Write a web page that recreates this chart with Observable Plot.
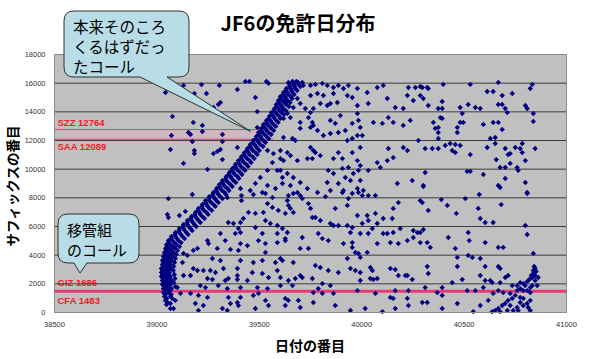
<!DOCTYPE html>
<html><head><meta charset="utf-8">
<script src="https://cdn.jsdelivr.net/npm/d3@7"></script>
<script src="https://cdn.jsdelivr.net/npm/@observablehq/plot@0.6"></script>
<style>html,body{margin:0;padding:0;background:#fff;overflow:hidden} #chart svg{display:block}</style>
</head><body><div id="chart"></div>
<script>
const chartTitle = "JF6の免許日分布";
const xTitle = "日付の番目";
const yTitle = "サフィックスの番目";
const xTicks = [38500, 39000, 39500, 40000, 40500, 41000];
const yTicks = [0, 2000, 4000, 6000, 8000, 10000, 12000, 14000, 16000, 18000];
const refLabels = ["SZZ 12764", "SAA 12089", "GIZ 1686", "CFA 1483"];
const refValues = [12764, 12089, 1686, 1483];
const shortLineEnd = 39570;
const callout1Lines = ["本来そのころ", "くるはずだっ", "たコール"];
const callout1Target = [39460, 12600];
const callout2Lines = ["移管組", "のコール"];

const curvePoints = [
[39662,16120],[39681,16120],
[39647,15910],[39666,15910],[39691,15910],
[39632,15630],[39652,15630],[39676,15630],
[39618,15350],[39637,15350],[39662,15350],
[39603,15070],[39623,15070],[39652,15070],
[39593,14790],[39613,14790],[39637,14790],
[39583,14510],[39603,14510],[39632,14510],
[39574,14230],[39593,14230],[39618,14230],
[39559,13950],[39579,13950],[39608,13950],
[39549,13680],[39569,13680],[39598,13680],
[39535,13400],[39554,13400],[39583,13400],
[39520,13120],[39540,13120],[39569,13120],
[39510,12840],[39530,12840],[39559,12840],
[39496,12560],[39515,12560],[39545,12560],
[39486,12280],[39505,12280],[39535,12280],
[39471,12000],[39491,12000],[39520,12000],
[39456,11720],[39476,11720],[39505,11720],
[39442,11440],[39461,11440],[39491,11440],
[39427,11160],[39447,11160],[39481,11160],
[39413,10880],[39432,10880],[39466,10880],
[39398,10600],[39418,10600],[39452,10600],
[39383,10330],[39403,10330],[39437,10330],
[39369,10050],[39388,10050],[39422,10050],
[39354,9770],[39374,9770],[39408,9770],
[39339,9490],[39359,9490],[39393,9490],
[39320,9210],[39339,9210],[39374,9210],
[39305,8930],[39325,8930],[39359,8930],
[39291,8650],[39310,8650],[39344,8650],
[39276,8370],[39295,8370],[39330,8370],
[39256,8090],[39276,8090],[39310,8090],
[39237,7810],[39256,7810],[39291,7810],
[39222,7540],[39242,7540],[39276,7540],
[39203,7260],[39222,7260],[39256,7260],
[39188,6980],[39208,6980],[39242,6980],
[39169,6700],[39188,6700],[39222,6700],
[39149,6420],[39169,6420],[39203,6420],
[39130,6140],[39149,6140],[39183,6140],
[39110,5860],[39130,5860],[39164,5860],
[39090,5580],[39110,5580],[39144,5580],
[39071,5300],[39090,5300],[39125,5300],
[39056,5020],[39076,5020],[39105,5020],
[39047,4740],[39066,4740],[39095,4740],
[39042,4470],[39061,4470],[39090,4470],
[39037,4190],[39056,4190],[39081,4190],
[39032,3910],[39051,3910],[39076,3910],
[39027,3630],[39047,3630],[39071,3630],
[39027,3350],[39047,3350],[39066,3350],
[39022,3070],[39042,3070],[39066,3070],
[39022,2790],[39042,2790],[39061,2790],
[39022,2510],[39042,2510],[39066,2510],
[39027,2230],[39047,2230],[39071,2230],
[39027,1950],[39047,1950],[39066,1950],
[39032,1670],[39051,1670],[39071,1670],
[39032,1390],[39056,1390],
[39037,1120],[39066,1120],
[39042,840],[39047,560],[39066,280]
];

const curveExtra = [
[39665,16050],[39690,16050],
[39648,15770],[39672,15770],[39700,15770],
[39630,15490],[39657,15490],[39685,15490],
[39618,15210],[39640,15210],[39670,15210],
[39605,14930],[39630,14930],[39660,14930],
[39596,14650],[39622,14650],[39650,14650],
[39585,14370],[39610,14370],[39645,14370],
[39572,14090],[39598,14090],[39630,14090],
[39560,13810],[39588,13810],[39620,13810],
[39548,13540],[39575,13540],[39603,13540],
[39535,13260],[39560,13260],[39592,13260],
[39522,12980],[39550,12980],[39580,12980],
[39510,12700],[39535,12700],[39570,12700],
[39498,12420],[39525,12420],[39558,12420],
[39485,12140],[39510,12140],[39545,12140],
[39470,11860],[39497,11860],[39530,11860],
[39455,11580],[39483,11580],[39518,11580],
[39440,11300],[39468,11300],[39500,11300],
[39426,11020],[39452,11020],[39490,11020],
[39412,10740],[39440,10740],[39475,10740],
[39398,10460],[39425,10460],[39460,10460],
[39383,10190],[39410,10190],[39445,10190],
[39368,9910],[39395,9910],[39430,9910],
[39352,9630],[39380,9630],[39415,9630],
[39337,9350],[39365,9350],[39400,9350],
[39320,9070],[39348,9070],[39385,9070],
[39305,8790],[39332,8790],[39368,8790],
[39290,8510],[39318,8510],[39352,8510],
[39273,8230],[39300,8230],[39338,8230],
[39255,7950],[39282,7950],[39320,7950],
[39238,7670],[39265,7670],[39300,7670],
[39220,7400],[39248,7400],[39285,7400],
[39202,7120],[39230,7120],[39268,7120],
[39185,6840],[39212,6840],[39250,6840],
[39166,6560],[39195,6560],[39232,6560],
[39148,6280],[39176,6280],[39212,6280],
[39128,6000],[39156,6000],[39192,6000],
[39108,5720],[39136,5720],[39172,5720],
[39089,5440],[39117,5440],[39152,5440],
[39070,5160],[39098,5160],[39135,5160],
[39058,4880],[39085,4880],[39118,4880],
[39050,4600],[39078,4600],[39110,4600],
[39046,4330],[39072,4330],[39100,4330],
[39040,4050],[39065,4050],[39095,4050],
[39036,3770],[39060,3770],[39090,3770],
[39033,3490],[39058,3490],[39086,3490],
[39030,3210],[39055,3210],[39082,3210],
[39028,2930],[39052,2930],[39080,2930],
[39028,2650],[39054,2650],[39085,2650],
[39030,2370],[39056,2370],[39088,2370],
[39033,2090],[39058,2090],[39082,2090],
[39036,1810],[39060,1810],[39090,1810],
[39038,1530],[39065,1530],
[39042,1250],[39070,1250],
[39048,980],[39075,980],
[39052,700]
];

const scatterPoints = [
[39130,15840],[39218,15900],[39305,15840],[39042,15350],[39183,15280],[39242,15280],[39393,15560],[39432,16120],[39452,16120],[39535,16120],[39545,15980],[39481,15000],[39310,14650],[39300,14510],[39276,14300],[39076,13680],[39178,13260],[39490,14020],[39222,13050],[39222,12630],[39154,12560],[39164,12420],[39071,12350],[39173,11930],[39320,12420],[39320,11930],[39490,12910],[39066,11370],[39183,11300],[39183,11090],[39310,11370],[39295,11230],[39276,11090],[39393,11510],[39320,10670],[39130,10400],[39247,9980],
[39540,11300],[39569,11090],[39603,10740],[39564,10460],[39588,9910],[39613,9420],[39540,9910],[39505,9420],[39481,9000],[39540,8860],[39579,8650],[39456,8510],[39515,8370],[39408,8650],
[39056,7950],[39173,8230],[39051,6840],[39056,6630],[39110,6770],[39139,7050],[39344,8020],[39413,8160],[39413,7810],[39471,8230],[39530,8300],[39564,8020],[39540,7600],[39564,7330],[39447,6980],[39481,6910],[39520,6980],[39593,7120],[39422,6560],[39408,6280],[39349,6280],[39374,6210],[39530,6420],[39554,6210],[39588,6070],[39481,5930],[39398,5860],[39383,5510],[39408,5580],[39515,5510],[39588,5510],[39310,5510],[39334,5020],[39247,5020],[39252,4810],[39408,4810],[39442,4670],[39496,5020],[39530,4810],[39588,4880],[39295,4470],[39359,4400],[39398,4330],[39530,4190],[39178,4330],[39198,4470],[39130,4120],[39149,3980],[39271,3770],[39310,3630],[39408,3630],[39471,3490],[39515,3630],[39579,3490],[39613,3630],[39125,3490],[39178,3070],[39198,2930],[39227,2930],[39261,2930],[39286,2790],[39325,3070],[39393,3070],[39393,2580],[39393,2300],[39466,2790],[39515,2720],[39545,2440],[39588,2930],[39130,2580],[39164,2580],[39247,2370],[39271,2300],[39334,2230],[39349,2370],[39442,2230],[39212,1880],[39237,1740],[39100,1740],[39300,1880],[39344,1670],[39408,1740],[39491,1740],[39540,1670],[39603,1880],[39115,1330],[39164,1330],[39203,1190],[39247,1050],[39349,1050],[39408,1050],[39471,1190],[39496,1330],[39530,840],[39042,840],[39066,630],[39081,280],[39188,630],[39227,490],[39320,280],[39344,140],[39359,630],[39398,490],[39393,700],[39481,280],[39203,140],[39545,490],[39090,840],
[39642,16050],[39676,15980],[39710,16050],[39715,15840],[39750,15840],[39774,15910],[39808,15980],[39832,15840],[39862,15700],[39886,15840],[39911,15630],[39935,15840],[39979,15630],[40027,15350],[40076,15700],[40105,15840],[40125,14930],[40228,15700],[40262,15700],[40286,15770],[40223,15140],[40252,14790],[40164,14300],[40203,14230],[40032,14580],[39979,14440],[39930,15140],[39954,15000],[39862,15280],[39813,15140],[39784,15280],[39750,15140],[39847,14580],[39881,14650],[39798,14580],[39832,14440],[39764,14230],[39686,14930],[39700,14580],[39666,14300],[39725,14230],[39750,13950],[39627,14580],[39613,14090],[39637,13880],[39618,13540],[39652,13600],[39700,13260],[39740,13600],[39759,13260],[39764,13050],[39847,13400],[39871,13190],[39896,13740],[39979,13880],[39984,13400],[39954,13190],[39993,12910],[40057,13260],[40101,13190],[40130,13600],[40154,13260],[40203,13050],[40237,13400],[39700,12840],[39750,12910],[39784,12700],[39813,12350],[39847,12490],[39886,12560],[39920,12700],[39618,12210],[39662,12140],[39676,12000],[39930,12000],[39954,12140],[39979,12350],[40003,12350],[40130,11440],[40203,11510],[40223,11300],[40277,12000],[39603,11300],[39637,11160],[39652,10950],[39618,10600],[39750,11510],[39764,11300],[39774,11160],[39798,10950],[39886,11160],[39954,11160],[39993,11510],[39686,10600],[39735,10740],[39759,10740],[39862,10740],[39906,10740],[40076,10460],[40125,10600],[40154,10810],[39979,10600],[39993,10250],[39603,9910],[39637,9700],[39666,9420],[39700,9070],[39613,9000],[39652,8860],[39837,9910],[39906,10050],[39935,10120],[39862,9700],[39920,9420],[39959,9700],[39984,9910],[39832,9070],[39886,9000],[39945,9210],[39993,9210],[40032,9910],[40091,10120],[40247,9210],[40301,8860],[40174,9000],[39735,8650],[39784,8370],[39847,8510],[39911,8510],[39979,8650],[40008,8510],
[39642,8160],[39666,8300],[39686,8370],[39700,8160],[39710,7950],[39637,7810],[39642,7470],[39652,7260],[39627,6910],[39666,6980],[39823,8090],[39906,8370],[39935,7950],[39954,8300],[39984,8370],[40003,8160],[40032,8160],[40067,8160],[39740,7600],[39750,7260],[39871,7260],[39930,7470],[39759,6630],[39774,6630],[39798,6420],[39979,6770],[40027,6770],[40067,6910],[40105,6560],[40149,6560],[40179,7670],[40154,7260],[40003,6210],[40032,6420],[40076,6210],[39847,6210],[39862,6070],[39886,6070],[39930,6070],[39954,5930],[39945,5580],[39613,5860],[39637,5580],[39710,5230],[39627,5160],[39627,5020],[39788,5510],[39808,5160],[39837,5020],[39911,4810],[39954,4880],[39993,5510],[40032,5510],[40052,5860],[40105,5510],[40125,5510],[40154,5580],[40188,5860],[40252,5720],[40272,5580],[40286,5580],[40223,5020],[40252,5230],[40076,4810],[40140,4880],[40179,4810],[39700,4470],[39740,4470],[39954,4540],[39969,4190],[39984,4120],[39993,3840],[40027,4190],[39603,3770],[39666,3490],[39774,3280],[39798,3140],[39930,3770],[39945,3070],[39969,2930],[39993,2790],[40042,3140],[40052,2930],[40140,3070],[40164,3000],[40179,2580],[40213,2580],[40223,2580],[40247,2300],[39837,2930],[39886,2790],[39603,2440],[39642,2230],[39676,2370],[39700,2580],[39710,2440],[40042,2370],[40057,2300],[40076,2370],[39993,2230],[39759,2370],[39808,2020],[39847,1880],[39662,1880],[39788,1670],[39979,1530],[40067,1330],[40164,1530],[40228,1530],[39764,1390],[39808,1330],[39862,1330],[39627,980],[39642,840],[39691,840],[39764,700],[40140,1050],[40154,980],[40223,980],[40296,700],[39627,490],[39700,350],[39871,490],[40017,280],[39945,140],[40101,60],[40164,280],[40228,490],[40286,7810],
[40296,15700],[40320,15700],[40325,15630],[40286,15140],[40301,14930],[40325,14440],[40398,15910],[40530,15910],[40667,16050],[40613,15420],[40642,15420],[40686,15140],[40735,15280],[40833,15910],[40823,15630],[40393,14720],[40374,14230],[40393,14230],[40481,14300],[40520,14510],[40555,14300],[40579,14230],[40667,14510],[40686,14510],[40701,14230],[40711,13950],[40799,14440],[40808,14230],[40838,13880],[40838,13330],[40491,13880],[40481,13260],[40496,13260],[40384,13600],[40393,13540],[40350,13260],[40359,12840],[40374,12910],[40374,12560],[40467,12910],[40467,12560],[40594,13120],[40642,13260],[40667,13260],[40686,12770],[40374,12140],[40310,11440],[40345,11440],[40374,11440],[40408,11650],[40432,11790],[40457,11720],[40481,11650],[40442,11300],[40457,11160],[40530,11020],[40628,12140],[40652,12210],[40652,11790],[40613,11510],[40701,11440],[40725,11090],[40715,11020],[40750,11510],[40774,11440],[40784,11790],[40784,11160],[40847,11440],[40799,10600],[40657,10670],[40676,10120],[40701,10120],[40725,10400],[40759,10120],[40764,9910],[40515,9840],[40530,9840],[40594,9630],[40310,9770],[40701,9350],[40667,8860],[40676,8720],[40799,9070],[40808,8370],[40301,8790],[40574,8230],
[40325,7120],[40389,7880],[40418,7470],[40462,6910],[40506,7950],[40569,7260],[40579,6560],[40603,6280],[40642,6280],[40681,7530],[40808,8300],[40296,7670],
[40301,5790],[40286,4880],[40320,4880],[40335,4540],[40423,5230],[40520,5580],[40525,5020],[40603,4880],[40667,4540],[40691,4540],[40799,6070],[40808,5440],[40838,4120],
[40457,4470],[40467,3840],[40467,3210],[40520,3980],[40540,3840],[40579,3770],[40603,3210],[40667,3210],[40676,3070],[40320,3210],[40325,2720],[40442,2090],[40491,2300],
[40310,1740],[40369,1390],[40393,1190],[40393,1740],[40515,1530],[40555,1530],[40594,1740],[40642,1330],[40667,1530],[40691,1390],[40725,1330],[40320,700],[40393,280],[40467,630],[40545,60],[40579,490],[40618,840]
];

const lateCluster = [
[40579,2580],[40603,2230],[40628,2230],[40637,2090],[40676,2090],[40701,2440],[40715,2580],[40735,1880],[40759,1880],[40774,2090],[40789,2020],[40808,2160],[40823,1740],[40833,1880],[40833,2440],[40838,2930],[40847,3070],[40838,2720],[40847,2230],[40857,1880],[40759,1530],[40774,1670],[40789,1530],[40808,1530],[40823,1390],[40750,1190],[40735,980],[40715,840],[40701,630],[40686,490],[40667,280],[40652,140],[40637,60],[40725,490],[40759,350],[40774,700],[40789,490],[40808,630],[40813,350],[40823,140],[40711,140],[40676,60],[40740,140],[40764,140],[40823,840],[40774,1050],[40789,980],
[40842,3210],[40852,2860],[40828,2580],[40818,2300],[40847,2580],[40798,1880],[40862,2440]
];

const allPoints = curvePoints.concat(curveExtra, scatterPoints, lateCluster);
const refTable = refLabels.map((label, i) => ({label, value: refValues[i]}));
const labelDy = [-7, 8, -5, 10];
const numFmt = d => String(d);
const latin = "'Liberation Sans', Arial, sans-serif";
const cjk = "'Noto Sans CJK JP', 'Noto Sans', sans-serif";
const pink = "#e8387a";

const labelMarks = refTable.map((d, i) => Plot.text([d], {
  x: 38500, y: "value", text: "label", dx: 3, dy: labelDy[i],
  textAnchor: "start", lineAnchor: "middle",
  fill: "#ee1c24", fontWeight: "bold", fontSize: 9.5, fontFamily: latin
}));

const plot = Plot.plot({
  width: 600,
  height: 359,
  marginLeft: 54,
  marginRight: 34,
  marginTop: 54,
  marginBottom: 47,
  style: {fontFamily: latin, background: "#ffffff", overflow: "visible"},
  x: {domain: [38500, 41000]},
  y: {domain: [0, 18000]},
  marks: [
    Plot.frame({fill: "#c0c0c0", stroke: null}),
    ...labelMarks,
    Plot.ruleY(yTicks.slice(1, -1), {stroke: "#3c3c3c", strokeWidth: 1}),
    Plot.ruleY(refTable.slice(0, 2), {y: "value", x1: 38500, x2: shortLineEnd, stroke: pink, strokeWidth: 1}),
    Plot.ruleY(refTable.slice(3), {y: "value", stroke: pink, strokeWidth: 3}),
    Plot.dot(allPoints, {x: d => d[0], y: d => d[1], symbol: "diamond2", r: 2.4, fill: "#000080", stroke: null}),
    Plot.frame({stroke: "#8c8c8c"}),
    Plot.axisX(xTicks, {tickSize: 0, tickPadding: 9, tickFormat: numFmt, fontSize: 7.5, fill: "#333", label: null}),
    Plot.axisY(yTicks, {tickSize: 0, tickPadding: 9, tickFormat: numFmt, fontSize: 7.5, fill: "#333", label: null})
  ]
});

const svg = d3.select(plot);
const sx = plot.scale("x"), sy = plot.scale("y");

svg.append("text").attr("x", 298).attr("y", 22)
  .attr("text-anchor", "middle").attr("dominant-baseline", "central")
  .style("font-family", cjk).style("font-weight", "bold").style("font-size", "20px")
  .attr("fill", "#000").text(chartTitle);

svg.append("text").attr("x", 310).attr("y", 345)
  .attr("text-anchor", "middle").attr("dominant-baseline", "central")
  .style("font-family", cjk).style("font-weight", "bold").style("font-size", "14px")
  .attr("fill", "#000").text(xTitle);

svg.append("text").attr("transform", "translate(12,186) rotate(-90)")
  .attr("text-anchor", "middle").attr("dominant-baseline", "central")
  .style("font-family", cjk).style("font-weight", "bold").style("font-size", "13.5px")
  .attr("fill", "#000").text(yTitle);

const tx = sx.apply(callout1Target[0]), ty = sy.apply(callout1Target[1]);
const c1 = svg.append("g");
c1.append("path")
  .attr("d", `M74,11 H179 Q189,11 189,21 V67 Q189,77 179,77 H167 L${tx},${ty} L140,77 H74 Q64,77 64,67 V21 Q64,11 74,11 Z`)
  .attr("fill", "#b8dde6").attr("stroke", "#303030").attr("stroke-width", 1);
callout1Lines.forEach((s, i) => {
  c1.append("text").attr("x", 73).attr("y", 26 + i * 20)
    .attr("text-anchor", "start").attr("dominant-baseline", "central")
    .style("font-family", cjk).style("font-size", "15.5px").attr("fill", "#000").text(s);
});

const c2 = svg.append("g");
c2.append("path")
  .attr("d", `M68,214 H129 Q139,214 139,224 V253 Q139,263 129,263 H87 L80,273 L74,263 H68 Q58,263 58,253 V224 Q58,214 68,214 Z`)
  .attr("fill", "#b8dde6").attr("stroke", "#303030").attr("stroke-width", 1);
callout2Lines.forEach((s, i) => {
  c2.append("text").attr("x", 67).attr("y", 229 + i * 20)
    .attr("text-anchor", "start").attr("dominant-baseline", "central")
    .style("font-family", cjk).style("font-size", "15px").attr("fill", "#000").text(s);
});

document.getElementById("chart").appendChild(plot);
</script>
</body></html>
